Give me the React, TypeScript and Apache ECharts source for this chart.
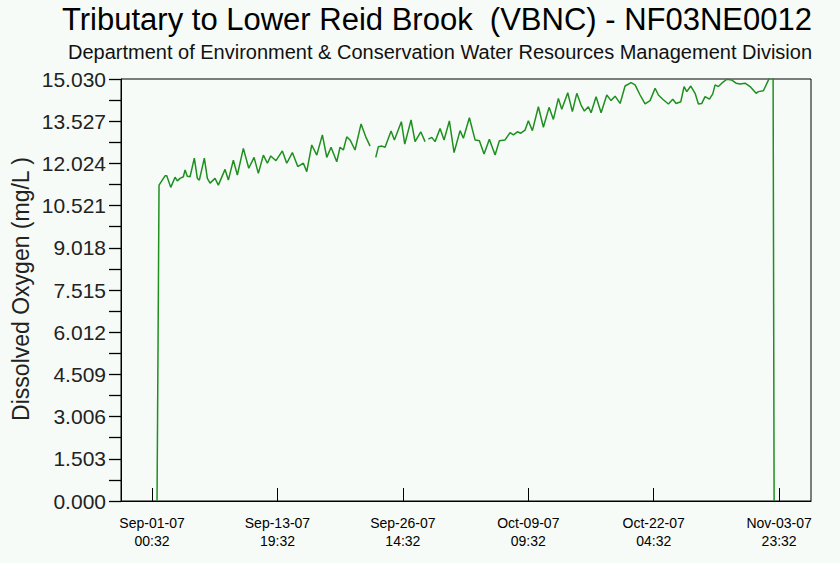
import React, { useEffect, useRef } from "react";
import * as echarts from "echarts";

// Hours since Sep-01-07 00:32 (x) and dissolved oxygen in mg/L (y); null = gap in the record
const hoursSinceStart = [
  12.2, 14.7, 17.1, 31.8, 36, 45.8, 56.3, 61.9, 68.5, 76.6, 80.8, 86.4, 93, 103.5, 110.9, 115.8,
  128, 135.4, 142, 154.2, 162.3, 178.7, 186.8, 199, 208.8, 223.5, 236.7, 249.7, 260.2, 272.5,
  282.3, 290.6, 303.3, 319, 329.7, 343.5, 356.7, 370.4, 378.7, 391, 403.2, 416.9, 427.7, 438.2,
  452.1, 460.2, 468.3, 476.6, 484.7, 496.9, 511.6, 523.1, 533.7, 540, 547.6, 554, 563, 570.4,
  585.1, 593.2, 610.3, 618.6, 634, 643.8, 657.8, 668.3, 672, 676.4, 684.7, 692.8, 705, 714.8,
  727.8, 739.3, 754, 762.1, 776.8, 790.7, 801.3, 812.7, 825.7, 839.7, 850.2, 864.1, 876.4,
  884.5, 894.3, 902.6, 913.1, 921.2, 931, 945.7, 957.9, 971.9, 982.4, 994.6, 1002.9, 1017.6,
  1028.9, 1039.7, 1050.2, 1058.3, 1068.1, 1074.7, 1086.9, 1099.2, 1113.1, 1123.6, 1133.4,
  1145.7, 1157.9, 1172.6, 1182.4, 1194.6, 1206.9, 1219.1, 1231.4, 1239.5, 1250.2, 1263.9,
  1274.7, 1282.8, 1294.3, 1302.3, 1308.9, 1318.7, 1329.3, 1337.4, 1345.7, 1353.7, 1364.3,
  1372.6, 1378.2, 1386.3, 1394.6, 1406.9, 1419.1, 1429.6, 1439.4, 1451.7, 1463.9, 1478.6,
  1484.2, 1496.5, 1508.7, 1515.3, 1520.2, 1522.7,
];

const dissolvedOxygen = [
  0, 5.63, 11.25, 11.58, 11.58, 11.17, 11.53, 11.4, 11.49, 11.55, 11.79, 11.57, 11.55, 12.21, 11.49, 11.43,
  12.21, 11.49, 11.32, 11.49, 11.25, 11.81, 11.43, 12.14, 11.61, 12.56, 11.85, 12.24, 11.67, 12.32,
  12.03, 12.29, 12.12, 12.47, 12.03, 12.41, 11.91, 12.03, 11.73, 12.68, 12.32, 13.04, 12.24, 12.6,
  12.08, 12.6, 12.5, 12.97, 12.86, 12.5, 13.43, 12.97, 12.64, null, 12.24, 12.62, 12.64, 12.6,
  13.18, 12.86, 13.51, 12.71, 13.57, 12.8, 13.15, 12.8, null, 12.89, 12.95, 12.8, 13.27, 12.86,
  13.54, 12.41, 13.19, 12.92, 13.65, 12.86, 12.83, 12.36, 12.88, 12.32, 12.83, 12.86, 13.12,
  13.04, 13.15, 13.1, 13.21, 13.54, 13.19, 14.04, 13.31, 14.02, 13.59, 14.34, 13.95, 14.54,
  13.87, 14.52, 14.1, 13.89, 14.04, 13.83, 14.4, 13.83, 14.46, 14.26, 14.42,
  14.16, 14.78, 14.9, 14.82, 14.46, 14.14, 14.26, 14.7, 14.46, 14.31, 14.14,
  14.31, 14.16, 14.22, 14.76, 14.58, 14.78, 14.52, 14.14, 14.16, 14.4, 14.31,
  14.5, 14.82, 14.76, 14.88, 15.02, 14.99, 14.88, 14.85, 14.88, 14.76, 14.52,
  14.58, 14.61, 14.99, 15.28, 15.35, 0,
];

// x tick positions (hours since Sep-01-07 00:32)
const xTickHours = [0, 307, 614, 921, 1228, 1535];
const xAxisMinHours = -76;
const xAxisMaxHours = 1613;

const yMin = 0;
const yMax = 15.03;
const yMinorStep = 0.7515; // ticks every half label step; labels on every other tick

const titleText = "Tributary to Lower Reid Brook  (VBNC) - NF03NE0012";
const subtitleText = "Department of Environment & Conservation Water Resources Management Division";
const yAxisTitle = "Dissolved Oxygen (mg/L )";

const START_MS = Date.UTC(2007, 8, 1, 0, 32);
const MONTHS = ["Jan", "Feb", "Mar", "Apr", "May", "Jun", "Jul", "Aug", "Sep", "Oct", "Nov", "Dec"];
const pad = (n: number) => (n < 10 ? "0" + n : "" + n);

function formatHours(h: number): string {
  const d = new Date(START_MS + Math.round(h) * 3600000);
  return (
    MONTHS[d.getUTCMonth()] + "-" + pad(d.getUTCDate()) + "-" + pad(d.getUTCFullYear() % 100) +
    "\n" + pad(d.getUTCHours()) + ":" + pad(d.getUTCMinutes())
  );
}

const FONT = "'Liberation Sans', Arial, Helvetica, sans-serif";
const BG = "#f6fbf7";

export default function App() {
  const ref = useRef<HTMLDivElement>(null);

  useEffect(() => {
    if (!ref.current) return;
    const chart = echarts.init(ref.current, null, { renderer: "svg" });
    const data = hoursSinceStart.map((h, i) => [h, dissolvedOxygen[i] === null ? "-" : dissolvedOxygen[i]]);

    chart.setOption({
      animation: false,
      backgroundColor: BG,
      textStyle: { fontFamily: FONT },
      graphic: [
        {
          type: "text",
          x: 437,
          y: 19,
          style: {
            text: titleText,
            fontSize: 31,
            fontFamily: FONT,
            fill: "#000",
            align: "center",
            verticalAlign: "middle",
          },
        },
        {
          type: "text",
          x: 440,
          y: 52,
          style: {
            text: subtitleText,
            fontSize: 20,
            fontFamily: FONT,
            fill: "#111",
            align: "center",
            verticalAlign: "middle",
          },
        },
        {
          type: "text",
          x: 21,
          y: 289,
          rotation: Math.PI / 2,
          style: {
            text: yAxisTitle,
            fontSize: 23,
            fontFamily: FONT,
            fill: "#222",
            align: "center",
            verticalAlign: "middle",
          },
        },
      ],
      grid: {
        left: 121,
        right: 29,
        top: 79,
        bottom: 62,
        show: true,
        borderColor: "#000",
        borderWidth: 1,
        backgroundColor: BG,
      },
      xAxis: {
        type: "value",
        min: xAxisMinHours,
        max: xAxisMaxHours,
        axisLine: { show: true, onZero: false, lineStyle: { color: "#000", width: 1 } },
        axisTick: {
          show: true,
          inside: true,
          length: 13,
          customValues: xTickHours,
          lineStyle: { color: "#000" },
        },
        axisLabel: {
          customValues: xTickHours,
          formatter: (v: number) => formatHours(v),
          fontSize: 14,
          lineHeight: 18,
          margin: 13,
          color: "#000",
          fontFamily: FONT,
        },
        splitLine: { show: false },
      },
      yAxis: {
        type: "value",
        min: yMin,
        max: yMax,
        interval: yMinorStep,
        axisLine: { show: true, onZero: false, lineStyle: { color: "#000", width: 1 } },
        axisTick: { show: true, inside: false, length: 12, lineStyle: { color: "#000", width: 1.3 } },
        axisLabel: {
          formatter: (v: number, i: number) => (i % 2 === 0 ? v.toFixed(3) : ""),
          fontSize: 21,
          margin: 15,
          color: "#222",
          fontFamily: FONT,
        },
        splitLine: { show: false },
      },
      series: [
        {
          type: "line",
          data,
          showSymbol: false,
          connectNulls: false,
          clip: true,
          lineStyle: { color: "#1f8f1f", width: 1.5 },
        },
      ],
    });

    return () => chart.dispose();
  }, []);

  return (
    <div
      ref={ref}
      style={{ position: "absolute", left: 0, top: 0, width: 840, height: 563 }}
    />
  );
}
